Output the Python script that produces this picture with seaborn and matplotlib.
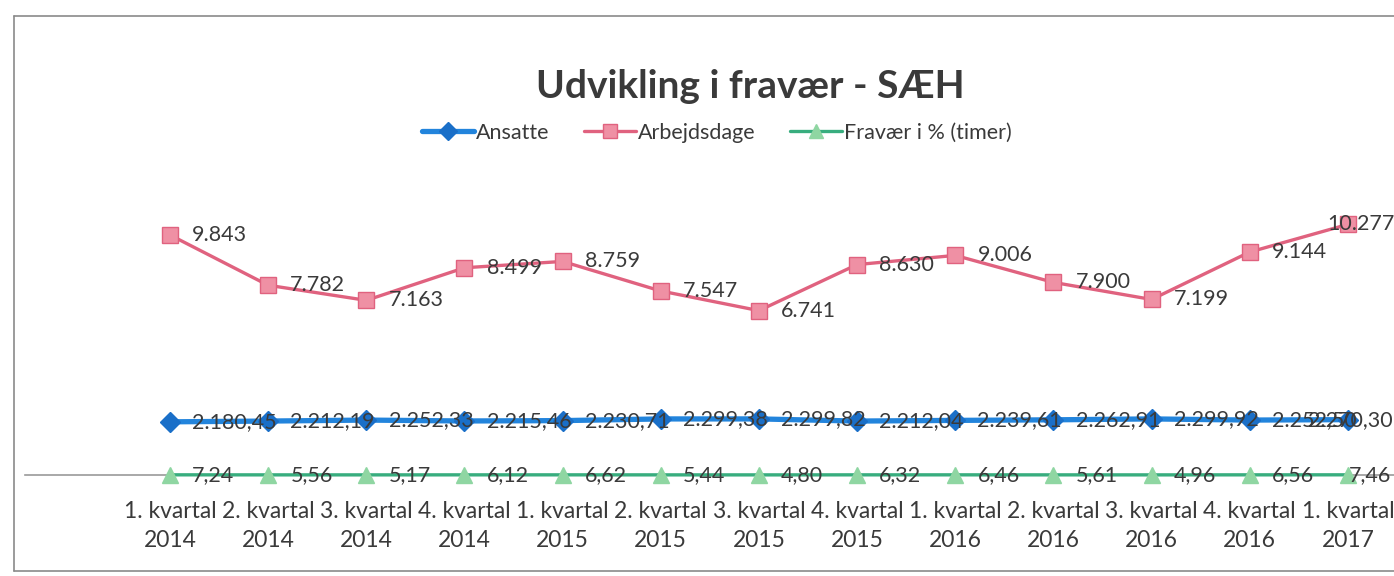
import numpy as np
import pandas as pd
import matplotlib
matplotlib.use("Agg")
import matplotlib.pyplot as plt
import seaborn as sns
from matplotlib.lines import Line2D

quarters = ["1. kvartal\n2014", "2. kvartal\n2014", "3. kvartal\n2014", "4. kvartal\n2014",
            "1. kvartal\n2015", "2. kvartal\n2015", "3. kvartal\n2015", "4. kvartal\n2015",
            "1. kvartal\n2016", "2. kvartal\n2016", "3. kvartal\n2016", "4. kvartal\n2016",
            "1. kvartal\n2017"]
ansatte = [2180.45, 2212.19, 2252.33, 2215.46, 2230.71, 2299.38, 2299.82,
           2212.04, 2239.61, 2262.91, 2299.92, 2252.50, 2270.30]
arbejdsdage = [9843, 7782, 7163, 8499, 8759, 7547, 6741, 8630, 9006, 7900, 7199, 9144, 10277]
fravaer = [7.24, 5.56, 5.17, 6.12, 6.62, 5.44, 4.80, 6.32, 6.46, 5.61, 4.96, 6.56, 7.46]


def dk(v, dec):
    s = f"{v:,.{dec}f}"
    return s.replace(",", "#").replace(".", ",").replace("#", ".")


df = pd.DataFrame({"idx": np.arange(len(quarters)), "kvartal": quarters,
                   "Ansatte": ansatte, "Arbejdsdage": arbejdsdage,
                   "Fravær i % (timer)": fravaer})

sns.set_theme(style="white")
plt.rcParams["font.family"] = ["Lato", "DejaVu Sans"]
txt = "#3a3a3a"

W, H = 1394, 576
fig = plt.figure(figsize=(W / 100, H / 100), dpi=100)
# axes: left edge at x=25px, zero line at y=475px, 12000 at ~182px
ax = fig.add_axes([25 / W, 1 - 475 / H, 1 - 25 / W, 292.6 / H])

series = [
    ("Ansatte", "#2284dc", "#1a6fc8", "#1a6fc8", "D", 10, 3.8, 2),
    ("Arbejdsdage", "#e0627f", "#ef90a4", "#e0627f", "s", 11, 2.4, 0),
    ("Fravær i % (timer)", "#38ad7e", "#8fd6a2", "#8fd6a2", "^", 11, 2.4, 2),
]
# last-point label nudges (keep labels inside the chart area, like Excel does)
last_dx = {"Ansatte": -29, "Arbejdsdage": -15, "Fravær i % (timer)": 1}

for name, lc, mfc, mec, mk, ms, lw, dec in series:
    sns.lineplot(data=df, x="idx", y=name, ax=ax, color=lc, linewidth=lw,
                 marker=mk, markersize=ms, markerfacecolor=mfc, markeredgecolor=mec,
                 markeredgewidth=1, zorder=3, clip_on=False)
    vals = df[name].tolist()
    n = len(vals)
    for i, v in enumerate(vals):
        dx = last_dx[name] if i == n - 1 else 16
        ax.annotate(dk(v, dec), xy=(i, v), xytext=(dx, 0), textcoords="offset points",
                    ha="left", va="center", fontsize=15.5, color=txt, zorder=4,
                    annotation_clip=False)

ax.set_xlim(-1.477, 12.47)
ax.set_ylim(0, 12000)
ax.set_xticks(df["idx"])
ax.set_xticklabels(quarters, fontsize=16.5, color=txt, linespacing=1.45)
ax.tick_params(axis="x", length=0, pad=19)
ax.set_yticks([])
ax.set_xlabel("")
ax.set_ylabel("")
for sp in ["top", "right", "left"]:
    ax.spines[sp].set_visible(False)
ax.spines["bottom"].set_color("#9a9a9a")
ax.spines["bottom"].set_linewidth(1.2)
ax.patch.set_alpha(0)

fig.text(750 / W, 1 - 86 / H, "Udvikling i fravær - SÆH", ha="center", va="center",
         fontsize=28, fontweight="bold", color=txt)

handles = [Line2D([], [], color=lc, linewidth=lw, marker=mk, markersize=ms - 1,
                  markerfacecolor=mfc, markeredgecolor=mec)
           for name, lc, mfc, mec, mk, ms, lw, dec in series]
fig.legend(handles, [s[0] for s in series], loc="center", bbox_to_anchor=(717 / W, 1 - 133 / H),
           ncol=3, frameon=False, fontsize=15.5, handlelength=2.4, handletextpad=0.1,
           columnspacing=1.6, labelcolor=txt)

# chart area frame
frame = dict(color="#8a8a8a", linewidth=1.2, transform=fig.transFigure)
fig.add_artist(Line2D([14 / W, 1], [1 - 16 / H, 1 - 16 / H], **frame))
fig.add_artist(Line2D([14 / W, 14 / W], [1 - 16 / H, 1 - 571 / H], **frame))
fig.add_artist(Line2D([14 / W, 1], [1 - 571 / H, 1 - 571 / H], **frame))

fig.savefig("out.png", dpi=100)
